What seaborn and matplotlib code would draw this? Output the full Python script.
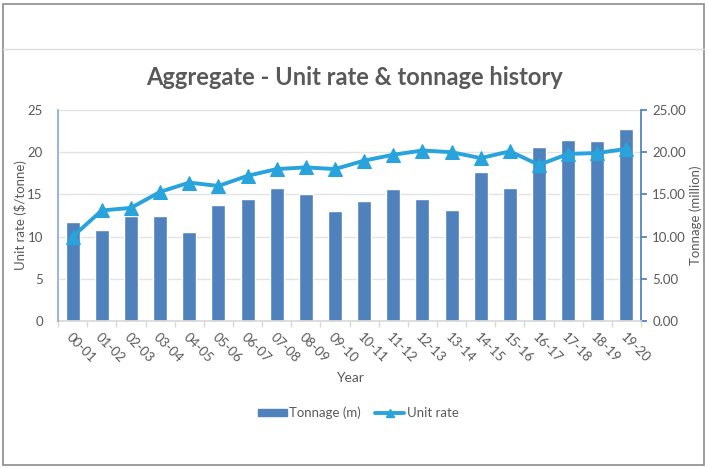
import numpy as np
import pandas as pd
import seaborn as sns
import matplotlib.pyplot as plt
from matplotlib.patches import Rectangle
from matplotlib.lines import Line2D
import matplotlib.ticker as ticker

# Data
years = ['00-01', '01-02', '02-03', '03-04', '04-05', '05-06', '06-07', '07-08',
         '08-09', '09-10', '10-11', '11-12', '12-13', '13-14', '14-15', '15-16',
         '16-17', '17-18', '18-19', '19-20']
tonnage = [11.7, 10.8, 12.5, 12.5, 10.5, 13.7, 14.4, 15.7, 15.1, 13.0,
           14.2, 15.6, 14.4, 13.2, 17.6, 15.7, 20.6, 21.5, 21.3, 22.7]
unit_rate = [10.0, 13.1, 13.4, 15.3, 16.4, 16.0, 17.2, 18.0, 18.2, 18.0,
             19.0, 19.7, 20.2, 20.0, 19.3, 20.1, 18.5, 19.8, 19.9, 20.4]

df = pd.DataFrame({'Year': years, 'Tonnage': tonnage, 'Unit rate': unit_rate})

sns.set_theme(style="white")
plt.rcParams['font.family'] = ['Lato', 'DejaVu Sans']

bar_color = '#4f81bd'
line_color = '#29a3dc'
text_color = '#595959'

fig = plt.figure(figsize=(7.08, 4.68), dpi=100)
ax = fig.add_axes([0.082, 0.314, 0.8234, 0.451])
ax2 = ax.twinx()

# bars on the secondary (tonnage) axis, drawn underneath
sns.barplot(data=df, x='Year', y='Tonnage', color=bar_color, width=0.48,
            saturation=1, ax=ax2)
# line on the primary (unit rate) axis, kept on top
sns.lineplot(data=df, x='Year', y='Unit rate', color=line_color, linewidth=2.8,
             marker='^', markersize=9.5, markeredgecolor=line_color, ax=ax)
ax.set_zorder(ax2.get_zorder() + 1)
ax.patch.set_visible(False)

for a in (ax, ax2):
    a.set_ylim(0, 25)
    a.set_xlim(-0.5, len(years) - 0.5)

ax.set_yticks(np.arange(0, 26, 5))
ax2.set_yticks(np.arange(0, 26, 5))
ax2.yaxis.set_major_formatter(ticker.FormatStrFormatter('%.2f'))
ax2.grid(axis='y', color='#e3e3e3', linewidth=1)
ax.grid(False)

# spines
for a in (ax, ax2):
    for s in a.spines.values():
        s.set_visible(False)
ax.spines['left'].set_visible(True)
ax.spines['left'].set_color('#8fa9d6')
ax2.spines['right'].set_visible(True)
ax2.spines['right'].set_color(bar_color)
ax2.spines['bottom'].set_visible(True)
ax2.spines['bottom'].set_color('#d9d9d9')

# ticks
ax.tick_params(axis='y', length=0, labelsize=9.5, labelcolor=text_color, pad=11)
ax2.tick_params(axis='y', length=4, color=bar_color, labelsize=9.5,
                labelcolor=text_color, right=True, pad=4)
ax2.tick_params(axis='x', length=0)
ax2.set_xticks([])
ax.xaxis.set_minor_locator(ticker.FixedLocator(np.arange(-0.5, len(years))))
ax.tick_params(axis='x', which='minor', length=4, color='#d9d9d9', bottom=True)
ax.tick_params(axis='x', which='major', length=0, labelsize=9.5,
               labelcolor=text_color, pad=7)
ax.set_xticks(range(len(years)))
ax.set_xticklabels(years, rotation=-45, ha='left', va='top',
                   rotation_mode='anchor')

ax.set_xlabel('Year', fontsize=10, color=text_color)
ax.xaxis.set_label_coords(0.5, -0.24)
ax.set_ylabel('Unit rate ($/tonne)', fontsize=9.5, color=text_color)
ax.yaxis.set_label_coords(-0.053, 0.5)
ax2.set_ylabel('Tonnage (million)', fontsize=9.5, color=text_color)
ax2.yaxis.set_label_coords(1.083, 0.5)

fig.text(0.5, 0.835, 'Aggregate - Unit rate & tonnage history', ha='center',
         va='center', fontsize=17, fontweight='bold', color=text_color)

handles = [Rectangle((0, 0), 1, 1, color=bar_color),
           Line2D([], [], color=line_color, linewidth=2.8, marker='^',
                  markersize=6)]
fig.legend(handles, ['Tonnage (m)', 'Unit rate'], loc='center',
           bbox_to_anchor=(0.506, 0.1175), ncol=2, frameon=False, fontsize=9.5,
           labelcolor=text_color, handlelength=2.2, handleheight=0.5,
           handletextpad=0.2, columnspacing=1.1)

# outer frame and header divider
fig.patches.append(Rectangle((0.004, 0.006), 0.99, 0.985, transform=fig.transFigure,
                             fill=False, edgecolor='#8c8c8c', linewidth=1.2))
fig.lines.append(Line2D([0.004, 0.994], [0.895, 0.895], transform=fig.transFigure,
                        color='#dcdcdc', linewidth=1))

plt.savefig('out.png', dpi=100)
